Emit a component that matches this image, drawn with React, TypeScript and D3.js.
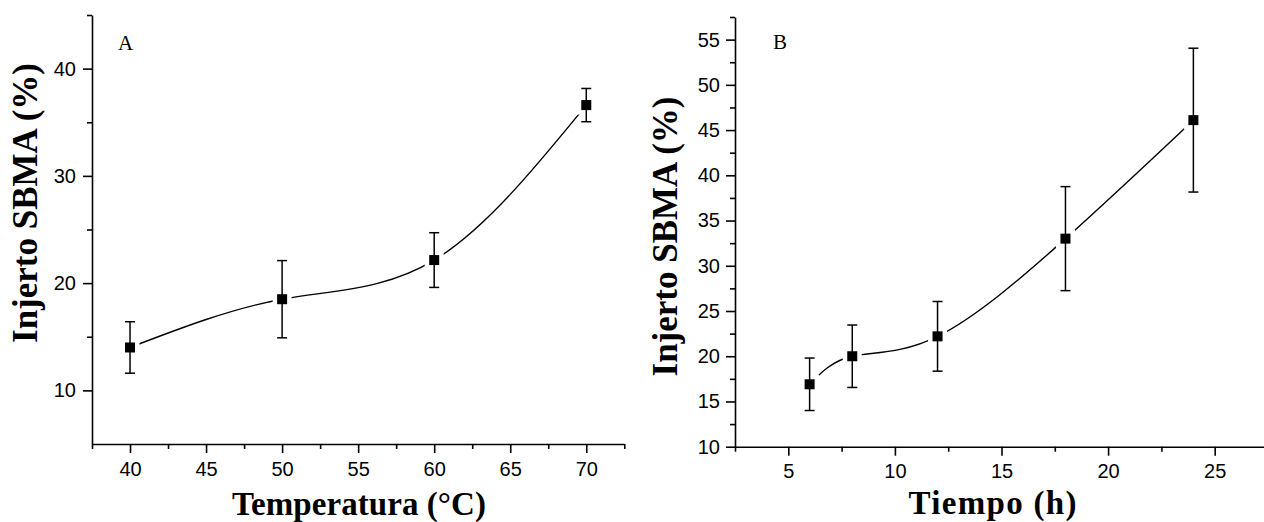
import React, { useEffect, useRef } from 'react'
import * as d3 from 'd3'

// Panel A: graft yield vs reaction temperature
const tempX = [40, 50, 60, 70]
const tempY = [14.0, 18.5, 22.15, 36.6]
const tempErr = [2.4, 3.6, 2.55, 1.55]
const tempXTicks = [40, 45, 50, 55, 60, 65, 70]
const tempYTicks = [10, 20, 30, 40]

// Panel B: graft yield vs reaction time
const timeX = [6, 8, 12, 18, 24]
const timeY = [16.9, 20.0, 22.2, 33.0, 46.1]
const timeErr = [2.9, 3.45, 3.85, 5.75, 7.95]
const timeXTicks = [5, 10, 15, 20, 25]
const timeYTicks = [10, 15, 20, 25, 30, 35, 40, 45, 50, 55]

const yTitle = 'Injerto SBMA (%)'

const panels = [
  {
    label: 'A', labelPos: [118, 50],
    xs: tempX, ys: tempY, errs: tempErr,
    xTicks: tempXTicks, yTicks: tempYTicks,
    xDomain: [37.5, 72.5], yDomain: [5, 45],
    xRange: [92, 624.3], yRange: [444, 15],
    xMinorStep: 5, yMinorStart: 15, yMinorStep: 10,
    xTitle: 'Temperatura (°C)', xTitlePos: [359, 515], xTitleLen: 254,
    yTitlePos: [37, 203],
    xPad: 9, yPad: 7
  },
  {
    label: 'B', labelPos: [773, 49],
    xs: timeX, ys: timeY, errs: timeErr,
    xTicks: timeXTicks, yTicks: timeYTicks,
    xDomain: [2.5, 27.5], yDomain: [10, 57.5],
    xRange: [735, 1268], yRange: [446.7, 17],
    xMinorStep: 5, yMinorStart: 12.5, yMinorStep: 5,
    xTitle: 'Tiempo (h)', xTitlePos: [992.5, 513.5], xTitleLen: 168,
    yTitlePos: [677, 236.5],
    xPad: 8.5, yPad: 6
  }
]

function App() {
  const ref = useRef(null)

  useEffect(() => {
    const svg = d3.select(ref.current)
    svg.selectAll('*').remove()

    panels.forEach(p => {
      const g = svg.append('g')
      const x = d3.scaleLinear().domain(p.xDomain).range(p.xRange)
      const y = d3.scaleLinear().domain(p.yDomain).range(p.yRange)
      const y0 = p.yRange[0]
      const x0 = p.xRange[0]

      // minor ticks
      const xMinor = d3.range(p.xDomain[0], p.xDomain[1] + 0.01, p.xMinorStep)
      const yMinor = d3.range(p.yMinorStart, p.yDomain[1] + 0.01, p.yMinorStep)
      g.append('g')
        .attr('transform', `translate(0,${y0})`)
        .call(d3.axisBottom(x).tickValues(xMinor).tickSize(5).tickFormat(() => ''))
        .call(a => a.select('.domain').remove())
      g.append('g')
        .attr('transform', `translate(${x0},0)`)
        .call(d3.axisLeft(y).tickValues(yMinor).tickSize(5).tickFormat(() => ''))
        .call(a => a.select('.domain').remove())

      // major axes
      g.append('g')
        .attr('transform', `translate(0,${y0})`)
        .call(d3.axisBottom(x).tickValues(p.xTicks).tickSize(9).tickSizeOuter(0).tickPadding(p.xPad))
      g.append('g')
        .attr('transform', `translate(${x0},0)`)
        .call(d3.axisLeft(y).tickValues(p.yTicks).tickSize(9).tickSizeOuter(0).tickPadding(p.yPad))

      g.selectAll('.domain, .tick line')
        .attr('stroke', '#000')
        .attr('stroke-width', 1.6)
      g.selectAll('.tick text')
        .attr('font-family', 'Liberation Sans, Arial, sans-serif')
        .attr('font-size', 20)
        .attr('fill', '#000')

      const pts = p.xs.map((v, i) => ({ x: v, y: p.ys[i], e: p.errs[i] }))

      // spline through the points
      const line = d3.line()
        .x(d => x(d.x))
        .y(d => y(d.y))
        .curve(d3.curveNatural)
      g.append('path')
        .datum(pts)
        .attr('fill', 'none')
        .attr('stroke', '#000')
        .attr('stroke-width', 1.4)
        .attr('d', line)

      // gap around the symbols
      g.selectAll('.mask')
        .data(pts)
        .join('rect')
        .attr('x', d => x(d.x) - 9.5)
        .attr('y', d => y(d.y) - 9.5)
        .attr('width', 19)
        .attr('height', 19)
        .attr('fill', '#fff')

      // error bars
      const eb = g.selectAll('.err').data(pts).join('g')
      eb.append('line')
        .attr('x1', d => x(d.x)).attr('x2', d => x(d.x))
        .attr('y1', d => y(d.y + d.e)).attr('y2', d => y(d.y - d.e))
      eb.append('line')
        .attr('x1', d => x(d.x) - 5).attr('x2', d => x(d.x) + 5)
        .attr('y1', d => y(d.y + d.e)).attr('y2', d => y(d.y + d.e))
      eb.append('line')
        .attr('x1', d => x(d.x) - 5).attr('x2', d => x(d.x) + 5)
        .attr('y1', d => y(d.y - d.e)).attr('y2', d => y(d.y - d.e))
      eb.selectAll('line')
        .attr('stroke', '#000')
        .attr('stroke-width', 1.5)

      // square symbols
      g.selectAll('.sym')
        .data(pts)
        .join('rect')
        .attr('x', d => x(d.x) - 5)
        .attr('y', d => y(d.y) - 5)
        .attr('width', 10)
        .attr('height', 10)
        .attr('fill', '#000')

      // titles
      g.append('text')
        .attr('x', p.xTitlePos[0])
        .attr('y', p.xTitlePos[1])
        .attr('text-anchor', 'middle')
        .attr('font-family', 'Liberation Serif, Times New Roman, serif')
        .attr('font-weight', 'bold')
        .attr('font-size', 33)
        .attr('textLength', p.xTitleLen)
        .attr('lengthAdjust', 'spacing')
        .text(p.xTitle)
      g.append('text')
        .attr('transform', `translate(${p.yTitlePos[0]},${p.yTitlePos[1]}) rotate(-90)`)
        .attr('text-anchor', 'middle')
        .attr('font-family', 'Liberation Serif, Times New Roman, serif')
        .attr('font-weight', 'bold')
        .attr('font-size', 35)
        .text(yTitle)
      g.append('text')
        .attr('x', p.labelPos[0])
        .attr('y', p.labelPos[1])
        .attr('font-family', 'Liberation Serif, Times New Roman, serif')
        .attr('font-size', 21)
        .text(p.label)
    })
  }, [])

  return (
    <svg
      ref={ref}
      width={1264}
      height={522}
      style={{ position: 'absolute', left: 0, top: 0, background: '#fff' }}
    />
  )
}

export default App
